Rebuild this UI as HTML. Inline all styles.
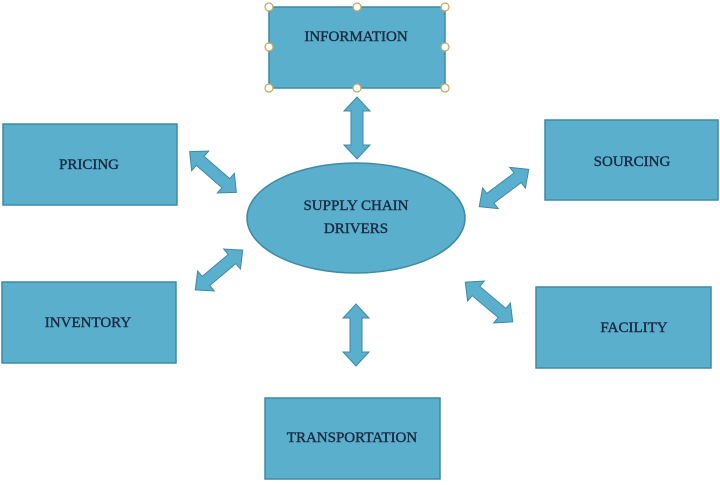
<!DOCTYPE html>
<html><head><style>
body{margin:0;background:#fff;width:720px;height:480px;overflow:hidden}
text{font-family:"Liberation Serif",serif;font-size:15px;fill:#1c2b44;text-anchor:middle;stroke:#1c2b44;stroke-width:0.4}
</style></head><body>
<svg width="720" height="480" viewBox="0 0 720 480">
<defs>
<g id="da"><polygon points="-31,0 -17,-13 -17,-6 17,-6 17,-13 31,0 17,13 17,6 -17,6 -17,13" fill="#5aafcc" stroke="#3f8aa6" stroke-width="1"/></g>
</defs>
<g fill="#5aafcc" stroke="#3f8aa6" stroke-width="1.5">
<rect x="269" y="7" width="176" height="81"/>
<rect x="3" y="124" width="174" height="81"/>
<rect x="545" y="120" width="173" height="80"/>
<rect x="2" y="282" width="174" height="81"/>
<rect x="536" y="287" width="175" height="81"/>
<rect x="265" y="398" width="175" height="81"/>
<ellipse cx="356" cy="218" rx="109" ry="55"/>
</g>
<g fill="#fff" stroke="#c8a85a" stroke-width="1.2">
<circle cx="269" cy="7" r="4"/><circle cx="357" cy="7" r="4"/><circle cx="445" cy="7" r="4"/>
<circle cx="269" cy="47" r="4"/><circle cx="445" cy="47" r="4"/>
<circle cx="269" cy="88" r="4"/><circle cx="357" cy="88" r="4"/><circle cx="445" cy="88" r="4"/>
</g>
<use href="#da" transform="translate(357,128) rotate(90)"/>
<use href="#da" transform="translate(356,335) rotate(90)"/>
<use href="#da" transform="translate(213,172) rotate(41)"/>
<use href="#da" transform="translate(504,188) rotate(-37)"/>
<use href="#da" transform="translate(219,270) rotate(-40)"/>
<use href="#da" transform="translate(489,302) rotate(40)"/>
<text x="356" y="41">INFORMATION</text>
<text x="89" y="169">PRICING</text>
<text x="632" y="166">SOURCING</text>
<text x="88" y="327">INVENTORY</text>
<text x="634" y="332">FACILITY</text>
<text x="352" y="442">TRANSPORTATION</text>
<text x="356" y="210">SUPPLY CHAIN</text>
<text x="356" y="233">DRIVERS</text>
</svg>
</body></html>
